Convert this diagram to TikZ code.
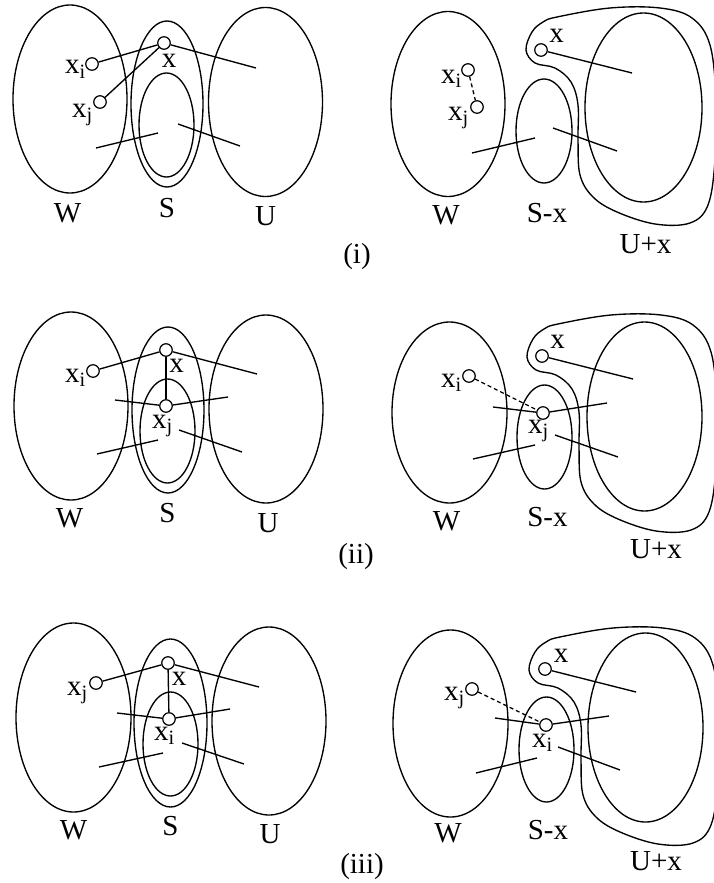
\documentclass[tikz,border=0pt]{standalone}
\usepackage{fontspec}
\setmainfont{Liberation Serif}
\usetikzlibrary{shapes.geometric}

\begin{document}
\begin{tikzpicture}[
  x=1pt, y=-1pt,
  region/.style={draw, ellipse, inner sep=0pt, line width=1.35pt},
  vtx/.style={draw, circle, fill=white, minimum size=12.5pt, inner sep=0pt, line width=1.2pt},
  lbl/.style={font=\fontsize{29}{32}\selectfont, inner sep=0pt},
  link/.style={line width=1.35pt},
  maybe/.style={line width=1.3pt, dash pattern=on 4pt off 3pt},
]
\useasboundingbox (0,0) rectangle (713,883);

% (i) left
\node[region, minimum width=114pt, minimum height=188pt] (W1) at (70,99) {};
\node[region, minimum width=72pt, minimum height=166pt] (S1) at (167,104) {};
\node[region, minimum width=55pt, minimum height=104pt] (Sx1) at (166.5,125) {};
\node[region, minimum width=114pt, minimum height=189pt] (U1) at (265.5,102) {};
\coordinate (a1) at (256,68);
\coordinate (d1) at (96,148);
\coordinate (e1) at (158,133);
\coordinate (f1) at (178,124);
\coordinate (g1) at (240,146);
\node[vtx] (x1) at (164,43) {};
\node[vtx] (xi1) at (92,64) {};
\node[vtx] (xj1) at (100,102) {};
\draw[link] (xi1) -- (x1);
\draw[link] (xj1) -- (x1);
\draw[link] (x1) -- (a1);
\draw[link] (d1) -- (e1);
\draw[link] (f1) -- (g1);
\node[lbl, anchor=base] (xl1) at (169,67) {x};
\node[lbl, anchor=base east] (xil1) at (86,74) {x\textsubscript{i}};
\node[lbl, anchor=base east] (xjl1) at (93,117) {x\textsubscript{j}};
\node[lbl, anchor=base] (Wl1) at (67.5,222) {W};
\node[lbl, anchor=base] (Sl1) at (167,217) {S};
\node[lbl, anchor=base] (Ul1) at (265.5,225) {U};
\node[lbl, anchor=base] (cap1) at (357,263) {(i)};

% (i) right
\draw[line width=1.35pt] plot[smooth cycle, tension=0.6] coordinates {(557,17) (610,8) (660,8) (692,18) (710,45) (716,100) (715,160) (708,205) (690,223) (655,224) (617,212) (593,197) (580,175) (578,140) (578,105) (571,82) (555,68) (535,63) (526,50) (532,32) (543,22)};
\node[region, minimum width=114pt, minimum height=185pt] (W2) at (448,104) {};
\node[region, minimum width=56pt, minimum height=104pt] (Sx2) at (544,131) {};
\node[region, minimum width=117pt, minimum height=189pt] (U2) at (643.5,107.5) {};
\coordinate (a2) at (632,73);
\coordinate (d2) at (472,153);
\coordinate (e2) at (535,138);
\coordinate (f2) at (553,128);
\coordinate (g2) at (617,151);
\node[vtx] (x2) at (541,50) {};
\node[vtx] (xi2) at (468,70) {};
\node[vtx] (xj2) at (477,107) {};
\draw[maybe] (xi2) -- (xj2);
\draw[link] (x2) -- (a2);
\draw[link] (d2) -- (e2);
\draw[link] (f2) -- (g2);
\node[lbl, anchor=base] (xl2) at (556.5,43) {x};
\node[lbl, anchor=base east] (xil2) at (462,83) {x\textsubscript{i}};
\node[lbl, anchor=base east] (xjl2) at (469,120) {x\textsubscript{j}};
\node[lbl, anchor=base] (Wl2) at (446,224) {W};
\node[lbl, anchor=base] (Sl2) at (547,222) {S-x};
\node[lbl, anchor=base] (Ul2) at (645.5,253) {U+x};

% (ii) left
\node[region, minimum width=114pt, minimum height=188pt] (W3) at (71,406) {};
\node[region, minimum width=72pt, minimum height=166pt] (S3) at (168,410) {};
\node[region, minimum width=55pt, minimum height=104pt] (Sx3) at (167.5,431) {};
\node[region, minimum width=114pt, minimum height=188pt] (U3) at (266,409) {};
\coordinate (a3) at (257,374);
\coordinate (b3) at (115,400);
\coordinate (c3) at (228,397);
\coordinate (d3) at (97,454);
\coordinate (e3) at (158,440);
\coordinate (f3) at (179,430);
\coordinate (g3) at (242,452);
\node[vtx] (x3) at (166,350) {};
\node[vtx] (xi3) at (93,371) {};
\node[vtx] (xj3) at (166,406) {};
\draw[link] (xi3) -- (x3);
\draw[link] (x3) -- (xj3);
\draw[link] (x3) -- (a3);
\draw[link] (xj3) -- (b3);
\draw[link] (xj3) -- (c3);
\draw[link] (d3) -- (e3);
\draw[link] (f3) -- (g3);
\node[lbl, anchor=base] (xl3) at (176.5,372) {x};
\node[lbl, anchor=base east] (xil3) at (86,382) {x\textsubscript{i}};
\node[lbl, anchor=base west] (xjl3) at (152,428) {x\textsubscript{j}};
\node[lbl, anchor=base] (Wl3) at (69.5,527) {W};
\node[lbl, anchor=base] (Sl3) at (167.5,522) {S};
\node[lbl, anchor=base] (Ul3) at (268,532) {U};
\node[lbl, anchor=base] (cap2) at (356,563) {(ii)};

% (ii) right
\draw[line width=1.35pt, shift={(1,307)}] plot[smooth cycle, tension=0.6] coordinates {(557,17) (610,8) (660,8) (692,18) (710,45) (716,100) (715,160) (708,205) (690,223) (655,224) (617,212) (593,197) (580,175) (578,140) (578,105) (571,82) (555,68) (535,63) (526,50) (532,32) (543,22)};
\node[region, minimum width=115pt, minimum height=181pt] (W4) at (449.5,412.5) {};
\node[region, minimum width=55pt, minimum height=104pt] (Sx4) at (544.5,437) {};
\node[region, minimum width=115pt, minimum height=189pt] (U4) at (644.5,416.5) {};
\coordinate (a4) at (633,379);
\coordinate (b4) at (493,407);
\coordinate (c4) at (607,403);
\coordinate (d4) at (473,459);
\coordinate (e4) at (535,445);
\coordinate (f4) at (555,435);
\coordinate (g4) at (618,457);
\node[vtx] (x4) at (542,356) {};
\node[vtx] (xi4) at (469,376) {};
\node[vtx] (xj4) at (543,413) {};
\draw[maybe] (xi4) -- (xj4);
\draw[link] (x4) -- (a4);
\draw[link] (xj4) -- (b4);
\draw[link] (xj4) -- (c4);
\draw[link] (d4) -- (e4);
\draw[link] (f4) -- (g4);
\node[lbl, anchor=base] (xl4) at (557.5,348) {x};
\node[lbl, anchor=base east] (xil4) at (462,387) {x\textsubscript{i}};
\node[lbl, anchor=base west] (xjl4) at (528,433) {x\textsubscript{j}};
\node[lbl, anchor=base] (Wl4) at (446.5,530) {W};
\node[lbl, anchor=base] (Sl4) at (547.5,526) {S-x};
\node[lbl, anchor=base] (Ul4) at (656,558) {U+x};

% (iii) left
\node[region, minimum width=115pt, minimum height=189pt] (W5) at (73.5,717.5) {};
\node[region, minimum width=73pt, minimum height=168pt] (S5) at (170.5,723) {};
\node[region, minimum width=55pt, minimum height=104pt] (Sx5) at (170.5,744) {};
\node[region, minimum width=114pt, minimum height=188pt] (U5) at (269,721) {};
\coordinate (a5) at (259,687);
\coordinate (b5) at (117,713);
\coordinate (c5) at (230,709);
\coordinate (d5) at (99,767);
\coordinate (e5) at (163,753);
\coordinate (f5) at (182,743);
\coordinate (g5) at (244,764);
\node[vtx] (x5) at (168,663) {};
\node[vtx] (xj5) at (96,683) {};
\node[vtx] (xi5) at (169,719) {};
\draw[link] (xj5) -- (x5);
\draw[link] (x5) -- (xi5);
\draw[link] (x5) -- (a5);
\draw[link] (xi5) -- (b5);
\draw[link] (xi5) -- (c5);
\draw[link] (d5) -- (e5);
\draw[link] (f5) -- (g5);
\node[lbl, anchor=base] (xl5) at (179,685) {x};
\node[lbl, anchor=base east] (xjl5) at (88,695) {x\textsubscript{j}};
\node[lbl, anchor=base west] (xil5) at (154,740) {x\textsubscript{i}};
\node[lbl, anchor=base] (Wl5) at (73.5,839) {W};
\node[lbl, anchor=base] (Sl5) at (170.5,835) {S};
\node[lbl, anchor=base] (Ul5) at (270,843) {U};
\node[lbl, anchor=base] (cap3) at (362,873) {(iii)};

% (iii) right
\draw[line width=1.35pt, shift={(3,620)}] plot[smooth cycle, tension=0.6] coordinates {(557,17) (610,8) (660,8) (692,18) (710,45) (716,100) (715,160) (708,205) (690,223) (655,224) (617,212) (593,197) (580,175) (578,140) (578,105) (571,82) (555,68) (535,63) (526,50) (532,32) (543,22)};
\node[region, minimum width=115pt, minimum height=187pt] (W6) at (450.5,723.5) {};
\node[region, minimum width=55pt, minimum height=105pt] (Sx6) at (546.5,749.5) {};
\node[region, minimum width=115pt, minimum height=189pt] (U6) at (645.5,727.5) {};
\coordinate (a6) at (636,692);
\coordinate (b6) at (495,718);
\coordinate (c6) at (609,716);
\coordinate (d6) at (476,773);
\coordinate (e6) at (537,758);
\coordinate (f6) at (558,747);
\coordinate (g6) at (620,770);
\node[vtx] (x6) at (545,669) {};
\node[vtx] (xj6) at (472,689) {};
\node[vtx] (xi6) at (546,725) {};
\draw[maybe] (xj6) -- (xi6);
\draw[link] (x6) -- (a6);
\draw[link] (xi6) -- (b6);
\draw[link] (xi6) -- (c6);
\draw[link] (d6) -- (e6);
\draw[link] (f6) -- (g6);
\node[lbl, anchor=base] (xl6) at (561,662) {x};
\node[lbl, anchor=base east] (xjl6) at (465,700) {x\textsubscript{j}};
\node[lbl, anchor=base west] (xil6) at (532,747) {x\textsubscript{i}};
\node[lbl, anchor=base] (Wl6) at (448,842) {W};
\node[lbl, anchor=base] (Sl6) at (548,839) {S-x};
\node[lbl, anchor=base] (Ul6) at (656,870) {U+x};

\end{tikzpicture}
\end{document}
